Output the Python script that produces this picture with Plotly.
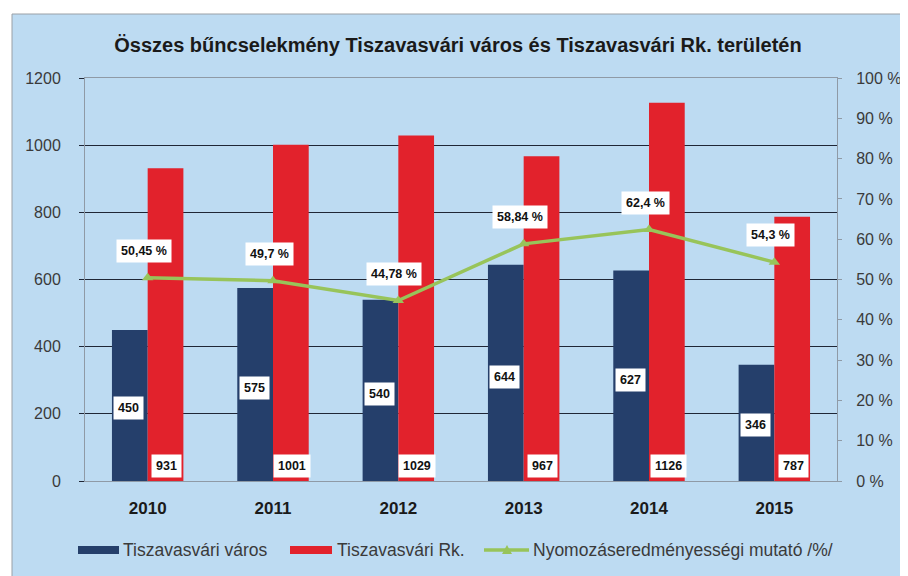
import plotly.graph_objects as go

years = ["2010", "2011", "2012", "2013", "2014", "2015"]
varos = [450, 575, 540, 644, 627, 346]
rk = [931, 1001, 1029, 967, 1126, 787]
mutato = [50.45, 49.7, 44.78, 58.84, 62.4, 54.3]
mutato_labels = ["50,45 %", "49,7 %", "44,78 %", "58,84 %", "62,4 %", "54,3 %"]
series_names = ["Tiszavasvári város", "Tiszavasvári Rk.", "Nyomozáseredményességi mutató /%/"]
title_text = "Összes bűncselekmény Tiszavasvári város és Tiszavasvári Rk. területén"

# page offset caused by the default 8px body margin
OFF = 8
W, H = 908 - OFF, 576 - OFF
ML, MT = 85 - OFF, 78 - OFF
MR = W - (837 - OFF)
MB = H - (481 - OFF)
PW, PH = W - ML - MR, H - MT - MB

BG = "#bddbf2"
BLUE = "#253f6b"
RED = "#e2222c"
GREEN = "#98c45a"
FONT = "Liberation Sans"
TXT = "#3a3a3a"


def px_x(px):  # page pixel -> paper
    return (px - OFF - ML) / PW


def px_y(py):
    return (H - MB - (py - OFF)) / PH


fig = go.Figure()
fig.add_trace(go.Bar(x=years, y=varos, name=series_names[0], showlegend=False,
                     marker=dict(color=BLUE, line=dict(width=0))))
fig.add_trace(go.Bar(x=years, y=rk, name=series_names[1], showlegend=False,
                     marker=dict(color=RED, line=dict(width=0))))
fig.add_trace(go.Scatter(x=years, y=mutato, name=series_names[2], showlegend=False,
                         yaxis="y2", mode="lines+markers",
                         line=dict(color=GREEN, width=3.5),
                         marker=dict(symbol="triangle-up", size=10, color=GREEN)))

annotations = []
box = dict(bgcolor="white", borderpad=4, showarrow=False,
           font=dict(family=FONT, size=12.5, color="#111111", weight="bold"))
for i in range(len(years)):
    annotations.append(dict(x=i, y=varos[i] * 0.48, xref="x", yref="y",
                            text=str(varos[i]), xshift=-19, **box))
    annotations.append(dict(x=i, y=45, xref="x", yref="y",
                            text=str(rk[i]), xshift=19, **box))
    annotations.append(dict(x=i, y=mutato[i], xref="x", yref="y2",
                            text=mutato_labels[i], yshift=27, xshift=-4, **box))

# custom legend (wide swatches like the original)
leg_y = 550
leg_font = dict(family=FONT, size=17.5, color=TXT)
shapes = [dict(type="rect", xref="paper", yref="paper", layer="below",
               x0=px_x(12), x1=px_x(920), y0=px_y(590), y1=px_y(14),
               fillcolor=BG, line=dict(color="#9aa0a6", width=1))]
shapes.append(dict(type="rect", xref="paper", yref="paper",
                   x0=px_x(78), x1=px_x(119), y0=px_y(leg_y + 4), y1=px_y(leg_y - 4),
                   fillcolor=BLUE, line=dict(width=0)))
shapes.append(dict(type="rect", xref="paper", yref="paper",
                   x0=px_x(290), x1=px_x(332), y0=px_y(leg_y + 4), y1=px_y(leg_y - 4),
                   fillcolor=RED, line=dict(width=0)))
shapes.append(dict(type="line", xref="paper", yref="paper",
                   x0=px_x(484), x1=px_x(529), y0=px_y(leg_y), y1=px_y(leg_y),
                   line=dict(color=GREEN, width=3.5)))
tx, ty = 507, leg_y
tri = "M {:.5f} {:.5f} L {:.5f} {:.5f} L {:.5f} {:.5f} Z".format(
    px_x(tx - 5), px_y(ty + 4), px_x(tx + 5), px_y(ty + 4), px_x(tx), px_y(ty - 5))
shapes.append(dict(type="path", xref="paper", yref="paper", path=tri,
                   fillcolor=GREEN, line=dict(width=0)))
for name, lx in zip(series_names, [121, 335, 531]):
    annotations.append(dict(x=px_x(lx), y=px_y(leg_y), xref="paper", yref="paper",
                            xanchor="left", yanchor="middle", showarrow=False,
                            text=name, font=leg_font))

fig.update_layout(
    width=W, height=H,
    margin=dict(l=ML, r=MR, t=MT, b=MB, autoexpand=False),
    paper_bgcolor="white",
    plot_bgcolor=BG,
    barmode="group",
    bargap=0.43,
    bargroupgap=0.0,
    showlegend=False,
    font=dict(family=FONT, color=TXT, size=16),
    title=dict(text="<b>" + title_text + "</b>",
               x=0.5, xanchor="center", y=1 - (45 - OFF) / H, yanchor="middle",
               font=dict(family=FONT, size=20, color="#1a1a1a")),
    xaxis=dict(type="category", range=[-0.5, len(years) - 0.5], autorange=False,
               showgrid=False, showline=True, linecolor="#8f9aa6",
               linewidth=1, mirror=True, ticks="",
               tickfont=dict(family=FONT, size=17, color="#1a1a1a", weight="bold"),
               ticklabelstandoff=12),
    yaxis=dict(range=[0, 1200], dtick=200, showgrid=True, gridcolor="#1f2636",
               gridwidth=1.3, ticks="outside", ticklen=5, tickcolor="#1f2636",
               showline=True, linecolor="#8f9aa6", linewidth=1,
               zeroline=True, zerolinecolor="#1f2636", zerolinewidth=1.3,
               tickfont=dict(family=FONT, size=16, color=TXT),
               ticklabelstandoff=15),
    yaxis2=dict(range=[0, 100], dtick=10, overlaying="y", side="right",
                showgrid=False, ticksuffix=" %", ticks="outside", ticklen=4,
                tickcolor="#8f9aa6", showline=True, linecolor="#8f9aa6",
                zeroline=False,
                tickfont=dict(family=FONT, size=16, color=TXT),
                ticklabelstandoff=11),
    annotations=annotations,
    shapes=shapes,
)

fig.write_html("out.html")
